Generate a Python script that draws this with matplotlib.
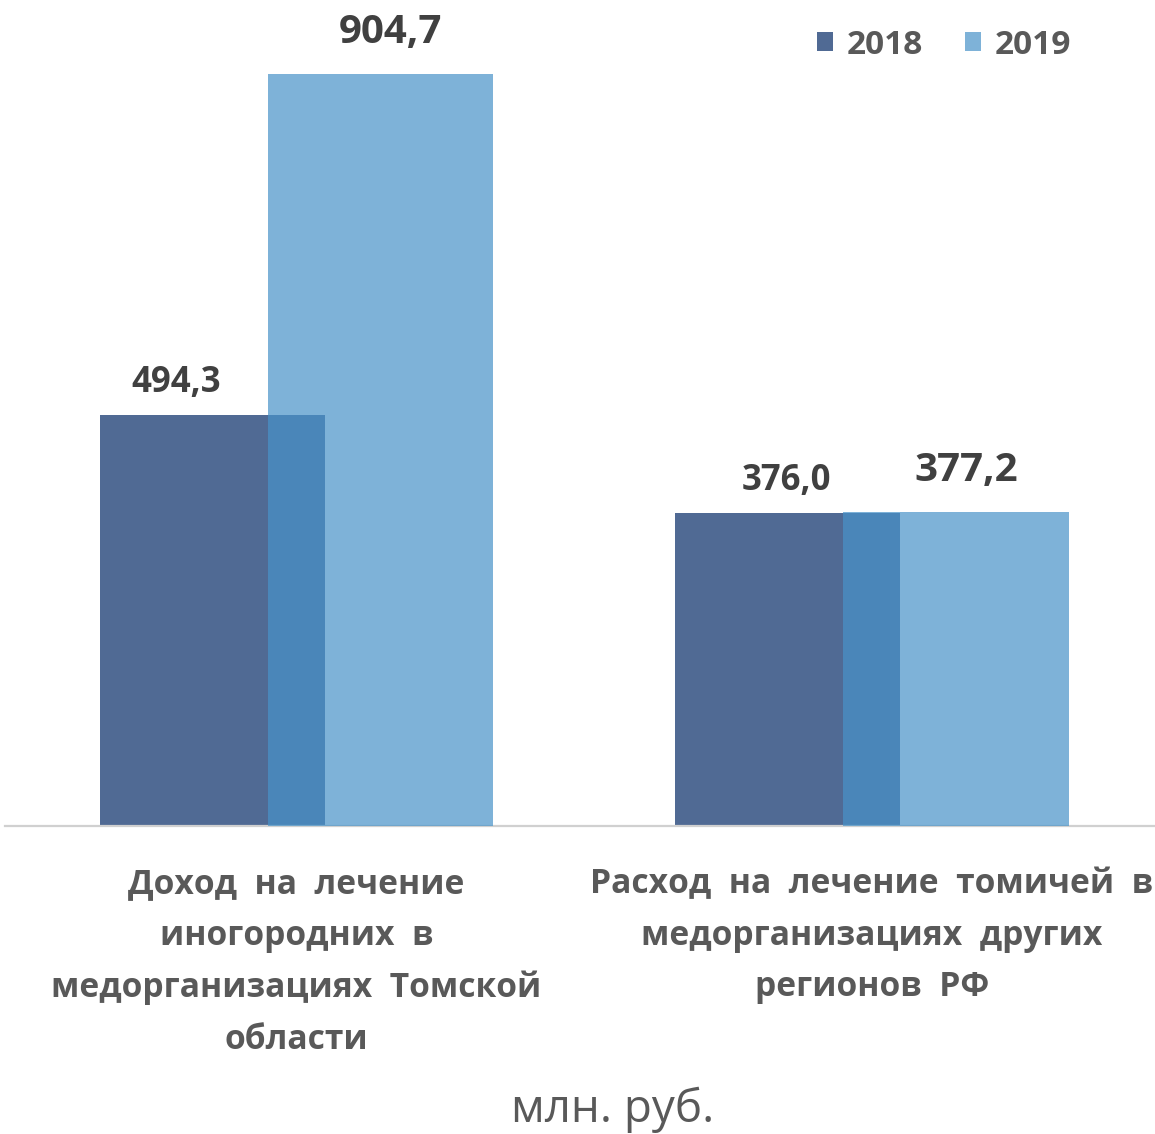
import matplotlib
matplotlib.use("Agg")
import matplotlib.pyplot as plt
import numpy as np

categories = [
    "Доход  на  лечение\nиногородних  в\nмедорганизациях  Томской\nобласти",
    "Расход  на  лечение  томичей  в\nмедорганизациях  других\nрегионов  РФ",
]
series_names = ["2018", "2019"]
values_2018 = [494.3, 376.0]
values_2019 = [904.7, 377.2]
labels_2018 = ["494,3", "376,0"]
labels_2019 = ["904,7", "377,2"]

FONT = ["Open Sans", "DejaVu Sans"]
plt.rcParams["font.family"] = FONT

W, H = 1155, 1134
fig = plt.figure(figsize=(W / 100, H / 100), dpi=100)
ax = fig.add_axes([5 / W, 1 - 826 / H, 1 - 5 / W, 826 / H])

x = np.arange(len(categories))
width = 0.391
off = 0.146
c2018 = "#506A94"
c2019 = "#4893C9"

b1 = ax.bar(x - off, values_2018, width, color=c2018, label=series_names[0], zorder=2)
b2 = ax.bar(x + off, values_2019, width, color=c2019, alpha=0.705, label=series_names[1], zorder=3)

ax.set_xlim(-0.5065, 1.4918)
ax.set_ylim(0, 993.4)

# label placement nudges (pixels), as in the original
dx_2018 = [-36, -2]
dx_2019 = [10, 10]
for xi, v, t, dx in zip(x - off, values_2018, labels_2018, dx_2018):
    ax.annotate(t, (xi, v), xytext=(dx, 23), textcoords="offset pixels",
                ha="center", va="baseline", fontsize=25, fontweight="bold", color="#404040")
for xi, v, t, dx in zip(x + off, values_2019, labels_2019, dx_2019):
    ax.annotate(t, (xi, v), xytext=(dx, 31), textcoords="offset pixels",
                ha="center", va="baseline", fontsize=29, fontweight="bold", color="#404040")

ax.set_xticks(x, categories)
for lab in ax.get_xticklabels():
    lab.set_fontsize(24.2)
    lab.set_fontweight("bold")
    lab.set_color("#595959")
    lab.set_linespacing(1.68)
    lab.set_multialignment("center")
ax.tick_params(axis="x", length=0, pad=29.5)
ax.set_yticks([])

for s in ["top", "right", "left"]:
    ax.spines[s].set_visible(False)
ax.spines["bottom"].set_color("#D0D0D0")
ax.spines["bottom"].set_linewidth(1.6)
ax.set_facecolor("none")

leg = fig.legend(handles=[b1, b2], labels=series_names, ncol=2, frameon=False,
                 loc="center right", bbox_to_anchor=(1071 / W, 1 - 45 / H),
                 prop={"size": 24, "weight": "bold"}, handlelength=0.5, handleheight=0.5,
                 handletextpad=0.4, columnspacing=1.25, borderaxespad=0, borderpad=0)
for t in leg.get_texts():
    t.set_color("#595959")

fig.text(613 / W, 1 - 1110 / H, "млн. руб.", ha="center", va="center",
         fontsize=33, color="#595959")

fig.savefig("out.png", dpi=100)
